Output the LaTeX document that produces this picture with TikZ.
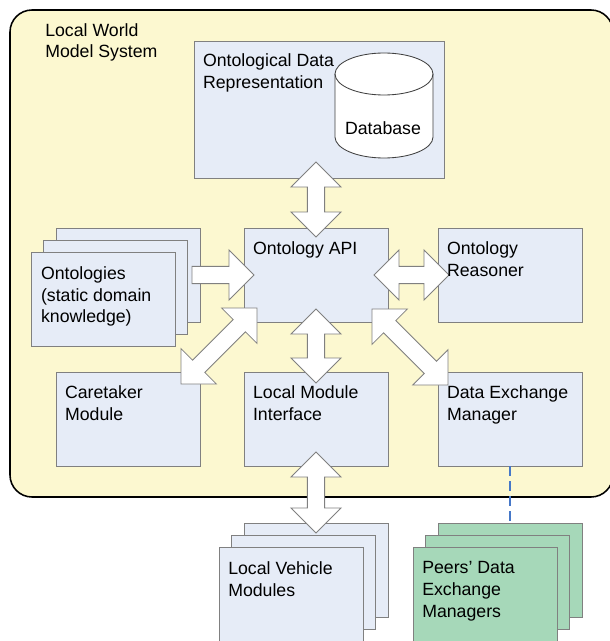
\documentclass[tikz,border=0pt]{standalone}
\usepackage{fontspec}
\setmainfont{Liberation Sans}
\usepackage{xcolor}
\usepackage{tikz}
\usetikzlibrary{calc,positioning}

\definecolor{lwmyellow}{RGB}{252,248,208}
\definecolor{boxblue}{RGB}{230,236,247}
\definecolor{peergreen}{RGB}{166,216,185}
\definecolor{boxline}{RGB}{128,128,128}
\definecolor{linkblue}{RGB}{70,120,200}

% block arrow sizes
\newcommand{\arrhl}{0.625cm}
\newcommand{\arrhw}{0.625cm}
\newcommand{\arrsw}{0.215cm}

% hollow double arrow from #1 to #2
\newcommand{\dblarrow}[2]{%
  \draw[bigarrow]
    (#1) -- ($($(#1)!\arrhl!(#2)$)!\arrhw!90:(#2)$)
    -- ($($(#1)!\arrhl!(#2)$)!\arrsw!90:(#2)$)
    -- ($($(#2)!\arrhl!(#1)$)!\arrsw!-90:(#1)$)
    -- ($($(#2)!\arrhl!(#1)$)!\arrhw!-90:(#1)$)
    -- (#2)
    -- ($($(#2)!\arrhl!(#1)$)!\arrhw!90:(#1)$)
    -- ($($(#2)!\arrhl!(#1)$)!\arrsw!90:(#1)$)
    -- ($($(#1)!\arrhl!(#2)$)!\arrsw!-90:(#2)$)
    -- ($($(#1)!\arrhl!(#2)$)!\arrhw!-90:(#2)$)
    -- cycle;}

% hollow single arrow from #1 to #2
\newcommand{\sglarrow}[2]{%
  \draw[bigarrow]
    ($(#1)!\arrsw!90:(#2)$)
    -- ($($(#2)!\arrhl!(#1)$)!\arrsw!-90:(#1)$)
    -- ($($(#2)!\arrhl!(#1)$)!\arrhw!-90:(#1)$)
    -- (#2)
    -- ($($(#2)!\arrhl!(#1)$)!\arrhw!90:(#1)$)
    -- ($($(#2)!\arrhl!(#1)$)!\arrsw!90:(#1)$)
    -- ($(#1)!\arrsw!-90:(#2)$)
    -- cycle;}

\begin{document}
\begin{tikzpicture}[
  sysbox/.style={draw=black, line width=1.1pt, fill=lwmyellow, rounded corners=0.55cm},
  box/.style={draw=boxline, line width=0.6pt, fill=boxblue, minimum width=3.6cm, minimum height=2.35cm},
  peerbox/.style={box, fill=peergreen},
  txt/.style={anchor=north west, align=left, inner sep=0pt, font=\fontsize{12.6}{15.4}\selectfont},
  bigarrow/.style={draw=boxline, line width=0.6pt, fill=white, line join=miter},
  dashlink/.style={draw=linkblue, line width=1.7pt, dash pattern=on 0.25cm off 0.125cm}
]
\useasboundingbox (0,0) rectangle (15.25,-16.025);
\clip (0,0) rectangle (15.25,-16.025);

\node[sysbox, minimum width=15.075cm, minimum height=12.175cm] (lwm) at (7.7875,-6.3375) {};

\node[box, minimum width=6.25cm, minimum height=3.425cm] (odr) at (7.975,-2.7375) {};

% database cylinder
\draw[black!75, line width=0.6pt, fill=white] (8.375,-1.85) -- (8.375,-3.425) arc (180:360:1.225 and 0.525)
  -- (10.825,-1.85) arc (0:180:1.225 and 0.525) -- cycle;
\draw[black!75, line width=0.6pt] (8.375,-1.85) arc (180:360:1.225 and 0.525);

\node[box] (ont3) at (3.2,-6.875) {};
\node[box] (ont2) at (2.89,-7.185) {};
\node[box] (ont1) at (2.58,-7.495) {};
\node[box] (api) at (7.9,-6.875) {};
\node[box] (reas) at (12.75,-6.875) {};
\node[box] (care) at (3.2,-10.475) {};
\node[box] (lmi) at (7.9,-10.475) {};
\node[box] (dem) at (12.75,-10.475) {};

\node[box] (lvm3) at (7.9,-14.25) {};
\node[box] (lvm2) at (7.59,-14.56) {};
\node[box] (lvm1) at (7.28,-14.87) {};
\node[peerbox] (pdm3) at (12.75,-14.25) {};
\node[peerbox] (pdm2) at (12.44,-14.56) {};
\node[peerbox] (pdm1) at (12.13,-14.87) {};

\draw[dashlink] (dem.south) -- (pdm3.north);

% arrow ends
\coordinate (odr-a) at (7.9,-4.05);
\coordinate (api-a) at (7.9,-5.925);
\coordinate (ont-a) at (4.8,-6.875);
\coordinate (api-b) at (6.35,-6.875);
\coordinate (api-c) at (9.35,-6.875);
\coordinate (reas-a) at (11.225,-6.875);
\coordinate (care-a) at (4.525,-9.6);
\coordinate (api-d) at (6.425,-7.7);
\coordinate (api-e) at (7.9,-7.725);
\coordinate (lmi-a) at (7.9,-9.575);
\coordinate (api-f) at (9.3,-7.725);
\coordinate (dem-a) at (11.2,-9.625);
\coordinate (lmi-b) at (7.9,-11.3);
\coordinate (lvm-a) at (7.9,-13.325);

\dblarrow{odr-a}{api-a}
\sglarrow{ont-a}{api-b}
\dblarrow{api-c}{reas-a}
\dblarrow{care-a}{api-d}
\dblarrow{api-e}{lmi-a}
\dblarrow{api-f}{dem-a}
\dblarrow{lmi-b}{lvm-a}

% texts
\node[txt] (lwm-t) at (1.125,-0.575) {Local World\\Model System};
\node[txt] (odr-t) at ([shift={(0.23,-0.32)}]odr.north west) {Ontological Data\\Representation};
\node[font=\fontsize{12.6}{15.4}\selectfont] (db-t) at (9.575,-3.2) {Database};
\node[txt] (ont-t) at ([shift={(0.25,-0.35)}]ont1.north west) {Ontologies\\(static domain\\knowledge)};
\node[txt] (api-t) at ([shift={(0.23,-0.35)}]api.north west) {Ontology API};
\node[txt] (reas-t) at ([shift={(0.23,-0.35)}]reas.north west) {Ontology\\Reasoner};
\node[txt] (care-t) at ([shift={(0.23,-0.35)}]care.north west) {Caretaker\\Module};
\node[txt] (lmi-t) at ([shift={(0.23,-0.35)}]lmi.north west) {Local Module\\Interface};
\node[txt] (dem-t) at ([shift={(0.23,-0.35)}]dem.north west) {Data Exchange\\Manager};
\node[txt] (lvm-t) at ([shift={(0.23,-0.35)}]lvm1.north west) {Local Vehicle\\Modules};
\node[txt] (pdm-t) at ([shift={(0.23,-0.35)}]pdm1.north west) {Peers’ Data\\Exchange\\Managers};
\end{tikzpicture}
\end{document}
